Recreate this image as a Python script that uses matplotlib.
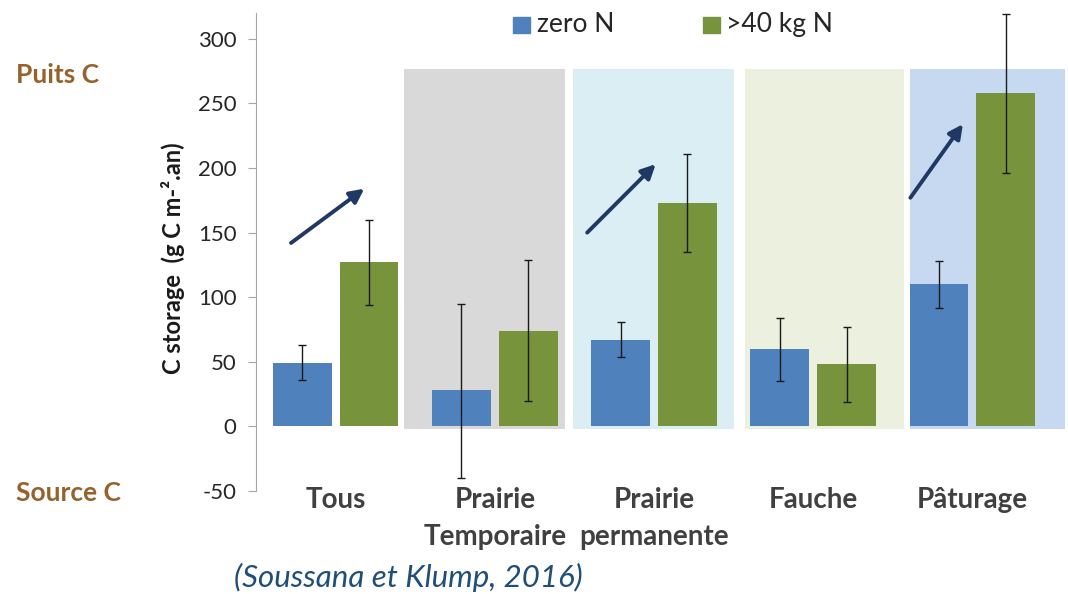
import matplotlib.pyplot as plt
import numpy as np

plt.rcParams['font.family'] = ['Lato', 'DejaVu Sans']
plt.rcParams['axes.unicode_minus'] = False

categories = ['Tous', 'Prairie\nTemporaire', 'Prairie\npermanente', 'Fauche', 'Pâturage']
zero_n = [49, 28, 67, 60, 110]
zero_n_low = [36, -40, 54, 35, 92]
zero_n_high = [63, 95, 81, 84, 128]
n40 = [127, 74, 173, 48, 258]
n40_low = [94, 20, 135, 19, 196]
n40_high = [160, 129, 211, 77, 319]

# background panels behind each grassland type (x start, x end, colour)
panels = [(0.43, 1.44, '#d9d9d9'), (1.49, 2.50, '#daeef3'),
          (2.57, 3.57, '#ebf1de'), (3.61, 4.58, '#c6d9f0')]
panel_top = 277

# arrows showing the increase (start x, start y, end x, end y)
arrows = [(-0.28, 142, 0.18, 184), (1.58, 150, 2.01, 203), (3.61, 177, 3.94, 234)]

blue = '#4f81bd'
green = '#77933c'

fig = plt.figure(figsize=(10.68, 5.94), dpi=100)
ax = fig.add_axes([0.2397, 0.1734, 0.7603, 0.8047])

for x0, x1, c in panels:
    ax.fill_between([x0, x1], -2, panel_top, color=c, zorder=0, lw=0)

x = np.arange(len(categories))
w = 0.37
off = 0.21
zn = np.array(zero_n)
gn = np.array(n40)
ax.bar(x - off, zn, w, color=blue, zorder=2)
ax.bar(x + off, gn, w, color=green, zorder=2)
ax.errorbar(x - off, zn, yerr=[zn - np.array(zero_n_low), np.array(zero_n_high) - zn],
            fmt='none', ecolor='#1a1a1a', elinewidth=1, capsize=3, zorder=3)
ax.errorbar(x + off, gn, yerr=[gn - np.array(n40_low), np.array(n40_high) - gn],
            fmt='none', ecolor='#1a1a1a', elinewidth=1, capsize=3, zorder=3)

for xs, ys, xe, ye in arrows:
    ax.annotate('', xy=(xe, ye), xytext=(xs, ys),
                arrowprops=dict(arrowstyle='-|>', color='#1f3864', lw=2.8,
                                mutation_scale=21, shrinkA=0, shrinkB=0), zorder=4)

ax.set_xlim(-0.5, 4.6)
ax.set_ylim(-50, 320)
ax.set_yticks(range(-50, 301, 50))
ax.set_xticks([])
for s in ['top', 'right', 'bottom']:
    ax.spines[s].set_visible(False)
ax.spines['left'].set_color('#a6a6a6')
ax.tick_params(axis='y', colors='#a6a6a6', length=6, labelsize=16, labelcolor='#262626', pad=8)
ax.patch.set_alpha(0)

for i, lab in enumerate(categories):
    ax.text(i, -47, lab, ha='center', va='top', fontsize=20, fontweight='bold',
            color='#404040', linespacing=1.5, clip_on=False)

fig.text(0.162, 0.565, 'C storage  (g C m-².an)', rotation=90, ha='center', va='center',
         fontsize=17, fontweight='bold', color='#1a1a1a')

fig.text(0.015, 0.873, 'Puits C', fontsize=19, fontweight='bold', color='#96622a', va='center')
fig.text(0.015, 0.170, 'Source C', fontsize=19, fontweight='bold', color='#96622a', va='center')

# legend drawn by hand at the top
fig.patches.append(plt.Rectangle((0.480, 0.945), 0.016, 0.027, transform=fig.transFigure,
                                 color=blue))
fig.text(0.503, 0.958, 'zero N', fontsize=19, color='#262626', va='center')
fig.patches.append(plt.Rectangle((0.658, 0.945), 0.016, 0.027, transform=fig.transFigure,
                                 color=green))
fig.text(0.680, 0.958, '>40 kg N', fontsize=19, color='#262626', va='center')

fig.text(0.219, 0.028, '(Soussana et Klump, 2016)', fontsize=22.5, style='italic',
         color='#1f4e79', va='center')

fig.savefig('out.png', dpi=100)
